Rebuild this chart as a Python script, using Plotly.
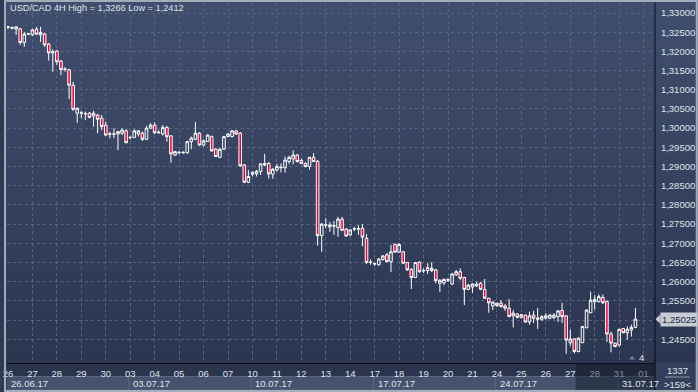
import plotly.graph_objects as go

# ---------------- data (USD/CAD, 4H bars) ----------------
opens = [1.3263, 1.3262, 1.3258, 1.3259, 1.3223, 1.3245, 1.3243, 1.3258, 1.3243, 1.3245,
         1.3219, 1.3196, 1.3201, 1.3175, 1.3153, 1.3152, 1.3112, 1.3039, 1.3039, 1.3037,
         1.3039, 1.3032, 1.3034, 1.3026, 1.3008, 1.2984, 1.2984, 1.2985, 1.2987, 1.2993,
         1.2975, 1.2976, 1.2985, 1.2987, 1.2971, 1.3000, 1.3008, 1.2988, 1.2985, 1.3002,
         1.2980, 1.2930, 1.2936, 1.2936, 1.2936, 1.2965, 1.2971, 1.2987, 1.2956, 1.2965,
         1.2978, 1.2945, 1.2924, 1.2945, 1.2978, 1.2978, 1.2993, 1.2987, 1.2904, 1.2859,
         1.2880, 1.2881, 1.2887, 1.2904, 1.2908, 1.2880, 1.2891, 1.2897, 1.2897, 1.2913,
         1.2920, 1.2930, 1.2916, 1.2908, 1.2900, 1.2924, 1.2914, 1.2720, 1.2747, 1.2743,
         1.2745, 1.2741, 1.2763, 1.2737, 1.2722, 1.2737, 1.2737, 1.2739, 1.2713, 1.2650,
         1.2646, 1.2644, 1.2658, 1.2670, 1.2652, 1.2697, 1.2677, 1.2678, 1.2650, 1.2632,
         1.2611, 1.2651, 1.2628, 1.2629, 1.2629, 1.2631, 1.2596, 1.2597, 1.2604, 1.2594,
         1.2618, 1.2626, 1.2611, 1.2580, 1.2586, 1.2589, 1.2596, 1.2580, 1.2557, 1.2537,
         1.2538, 1.2544, 1.2537, 1.2531, 1.2511, 1.2516, 1.2507, 1.2513, 1.2495, 1.2513,
         1.2502, 1.2502, 1.2505, 1.2505, 1.2506, 1.2509, 1.2525, 1.2511, 1.2441, 1.2451,
         1.2418, 1.2441, 1.2480, 1.2519, 1.2548, 1.2548, 1.2559, 1.2548, 1.2464, 1.2440,
         1.2435, 1.2478, 1.2467, 1.2474, 1.2481]

highs = [1.3266, 1.3265, 1.3266, 1.3261, 1.3251, 1.3248, 1.3259, 1.3264, 1.3264, 1.3248,
         1.3222, 1.3205, 1.3204, 1.3178, 1.3159, 1.3154, 1.3121, 1.3053, 1.3045, 1.3043,
         1.3042, 1.3045, 1.3037, 1.3034, 1.3017, 1.2991, 1.3000, 1.2993, 1.3000, 1.2998,
         1.2980, 1.2997, 1.2995, 1.2991, 1.3006, 1.3013, 1.3015, 1.2995, 1.3008, 1.3006,
         1.2982, 1.2941, 1.2941, 1.2940, 1.2967, 1.2978, 1.3016, 1.2990, 1.2971, 1.2984,
         1.2981, 1.2948, 1.2948, 1.2980, 1.2987, 1.2995, 1.2995, 1.2990, 1.2907, 1.2891,
         1.2887, 1.2891, 1.2909, 1.2933, 1.2912, 1.2896, 1.2907, 1.2908, 1.2926, 1.2928,
         1.2942, 1.2932, 1.2921, 1.2911, 1.2925, 1.2935, 1.2917, 1.2753, 1.2765, 1.2756,
         1.2758, 1.2769, 1.2769, 1.2740, 1.2737, 1.2743, 1.2748, 1.2750, 1.2724, 1.2658,
         1.2649, 1.2662, 1.2670, 1.2675, 1.2696, 1.2700, 1.2701, 1.2680, 1.2651, 1.2635,
         1.2651, 1.2653, 1.2635, 1.2648, 1.2651, 1.2633, 1.2606, 1.2608, 1.2610, 1.2623,
         1.2631, 1.2635, 1.2613, 1.2594, 1.2596, 1.2600, 1.2599, 1.2607, 1.2558, 1.2548,
         1.2545, 1.2552, 1.2542, 1.2555, 1.2526, 1.2518, 1.2516, 1.2514, 1.2522, 1.2524,
         1.2532, 1.2513, 1.2518, 1.2516, 1.2518, 1.2526, 1.2545, 1.2513, 1.2475, 1.2453,
         1.2455, 1.2485, 1.2528, 1.2574, 1.2565, 1.2567, 1.2567, 1.2552, 1.2470, 1.2441,
         1.2477, 1.2479, 1.2484, 1.2488, 1.2532]

lows = [1.3258, 1.3257, 1.3243, 1.3217, 1.3212, 1.3243, 1.3240, 1.3243, 1.3225, 1.3212,
        1.3176, 1.3147, 1.3165, 1.3138, 1.3147, 1.3076, 1.3045, 1.3014, 1.3026, 1.3021,
        1.3026, 1.3004, 1.2987, 1.2995, 1.2980, 1.2974, 1.2974, 1.2943, 1.2982, 1.2961,
        1.2971, 1.2974, 1.2978, 1.2967, 1.2969, 1.2999, 1.2985, 1.2985, 1.2981, 1.2965,
        1.2910, 1.2928, 1.2932, 1.2933, 1.2933, 1.2945, 1.2969, 1.2954, 1.2952, 1.2964,
        1.2938, 1.2925, 1.2922, 1.2943, 1.2977, 1.2976, 1.2982, 1.2899, 1.2857, 1.2857,
        1.2874, 1.2874, 1.2878, 1.2901, 1.2869, 1.2868, 1.2887, 1.2885, 1.2884, 1.2907,
        1.2906, 1.2911, 1.2907, 1.2898, 1.2892, 1.2912, 1.2694, 1.2678, 1.2739, 1.2730,
        1.2722, 1.2717, 1.2732, 1.2717, 1.2719, 1.2732, 1.2722, 1.2692, 1.2646, 1.2644,
        1.2641, 1.2642, 1.2655, 1.2651, 1.2625, 1.2675, 1.2675, 1.2646, 1.2628, 1.2581,
        1.2610, 1.2623, 1.2623, 1.2620, 1.2625, 1.2596, 1.2573, 1.2591, 1.2599, 1.2591,
        1.2615, 1.2604, 1.2539, 1.2578, 1.2571, 1.2586, 1.2578, 1.2555, 1.2519, 1.2526,
        1.2534, 1.2533, 1.2524, 1.2508, 1.2481, 1.2504, 1.2504, 1.2493, 1.2488, 1.2492,
        1.2477, 1.2498, 1.2501, 1.2502, 1.2502, 1.2495, 1.2492, 1.2412, 1.2433, 1.2413,
        1.2416, 1.2440, 1.2479, 1.2518, 1.2528, 1.2546, 1.2542, 1.2443, 1.2416, 1.2429,
        1.2431, 1.2466, 1.2449, 1.2457, 1.2479]

closes = [1.3264, 1.3261, 1.3264, 1.3223, 1.3245, 1.3246, 1.3256, 1.3245, 1.3249, 1.3217,
          1.3196, 1.3199, 1.3173, 1.3153, 1.3154, 1.3112, 1.3049, 1.3052, 1.3040, 1.3038,
          1.3028, 1.3039, 1.3023, 1.3004, 1.2982, 1.2985, 1.2985, 1.2991, 1.2995, 1.2962,
          1.2976, 1.2993, 1.2993, 1.2971, 1.3000, 1.3008, 1.2988, 1.2989, 1.3002, 1.2978,
          1.2933, 1.2939, 1.2937, 1.2937, 1.2965, 1.2974, 1.2987, 1.2956, 1.2967, 1.2982,
          1.2941, 1.2926, 1.2945, 1.2978, 1.2985, 1.2993, 1.2985, 1.2902, 1.2859, 1.2874,
          1.2885, 1.2888, 1.2907, 1.2908, 1.2881, 1.2893, 1.2900, 1.2898, 1.2917, 1.2924,
          1.2930, 1.2913, 1.2908, 1.2900, 1.2924, 1.2913, 1.2720, 1.2750, 1.2748, 1.2748,
          1.2746, 1.2763, 1.2734, 1.2719, 1.2735, 1.2738, 1.2738, 1.2716, 1.2650, 1.2651,
          1.2647, 1.2659, 1.2667, 1.2652, 1.2678, 1.2677, 1.2697, 1.2648, 1.2631, 1.2611,
          1.2650, 1.2626, 1.2629, 1.2637, 1.2635, 1.2603, 1.2604, 1.2606, 1.2605, 1.2620,
          1.2626, 1.2609, 1.2580, 1.2591, 1.2594, 1.2594, 1.2580, 1.2557, 1.2545, 1.2547,
          1.2544, 1.2535, 1.2531, 1.2509, 1.2518, 1.2507, 1.2514, 1.2495, 1.2511, 1.2505,
          1.2505, 1.2509, 1.2511, 1.2513, 1.2513, 1.2524, 1.2509, 1.2448, 1.2451, 1.2418,
          1.2453, 1.2483, 1.2526, 1.2552, 1.2554, 1.2561, 1.2545, 1.2464, 1.2440, 1.2431,
          1.2476, 1.2467, 1.2476, 1.2481, 1.25025]

day_labels = ["26", "27", "28", "29", "30", "03", "04", "05", "06", "07",
              "10", "11", "12", "13", "14", "17", "18", "19", "20", "21",
              "24", "25", "26", "27", "28", "31", "01"]
week_labels = ["26.06.17", "03.07.17", "10.07.17", "17.07.17", "24.07.17", "31.07.17"]
price_ticks = [1.245, 1.250, 1.255, 1.260, 1.265, 1.270, 1.275, 1.280, 1.285,
               1.290, 1.295, 1.300, 1.305, 1.310, 1.315, 1.320, 1.325, 1.330]
title_text = "USD/CAD 4H High = 1,3266 Low = 1,2412"
corner_top = "1337"
corner_bottom = ">159<"
bar_count_label = "4"
bars_per_day = 6
days_per_week = 5

# ---------------- derived ----------------
x_idx = list(range(len(opens)))
day_ticks = [k * bars_per_day for k in range(len(day_labels))]
week_starts = [k * bars_per_day * days_per_week for k in range(len(week_labels))]
price_text = [f"{v:.5f}".replace(".", ",") for v in price_ticks]
last_close = closes[-1]
last_text = f"{last_close:.5f}".replace(".", ",")

W, H = 698, 392
ML, MR, MT, MB = 3, 43, 3, 29
PW, PH = W - ML - MR, H - MT - MB


def px(xp):   # page x -> paper
    return (xp - ML) / PW


def py(yp):   # page y -> paper
    return (H - MB - yp) / PH


FONT = "Liberation Sans, Arial, sans-serif"
TXT = "#dfe3ea"

fig = go.Figure()
fig.add_trace(go.Candlestick(
    x=x_idx, open=opens, high=highs, low=lows, close=closes,
    increasing=dict(line=dict(color="#ffffff", width=1), fillcolor="rgba(0,0,0,0)"),
    decreasing=dict(line=dict(color="#ffffff", width=1), fillcolor="#e8073b"),
    whiskerwidth=0, showlegend=False, hoverinfo="skip",
))

shapes = []
top_c = (0x40, 0x4e, 0x6e)
bot_c = (0x2a, 0x34, 0x4e)
nb = 30
for k in range(nb):
    t = k / (nb - 1)
    c = tuple(int(round(top_c[j] + (bot_c[j] - top_c[j]) * t)) for j in range(3))
    y0 = k * H / nb
    y1 = (k + 1) * H / nb + 0.5
    shapes.append(dict(type="rect", xref="paper", yref="paper", layer="below",
                       x0=px(0), x1=px(W), y0=py(y1), y1=py(y0),
                       fillcolor=f"rgb{c}", line=dict(width=0)))
shapes.append(dict(type="rect", xref="paper", yref="paper", layer="below",
                   x0=px(0), x1=px(W), y0=py(H), y1=py(H - MB),
                   fillcolor="#2b344d", line=dict(width=0)))
for k, ws in enumerate(week_starts):
    we = ws + bars_per_day * days_per_week
    shapes.append(dict(type="rect", xref="x", yref="paper", layer="below",
                       x0=ws - 0.3, x1=we - 0.3, y0=py(390), y1=py(376.5),
                       fillcolor="#46536e", line=dict(color="#5a6681", width=1)))
shapes.append(dict(type="rect", xref="paper", yref="paper", layer="below",
                   x0=px(655), x1=px(W), y0=py(H), y1=py(H - MB),
                   fillcolor="#34405b", line=dict(width=0)))
shapes.append(dict(type="line", xref="paper", yref="paper", layer="above",
                   x0=px(665), x1=px(690), y0=py(377), y1=py(377),
                   line=dict(color="#8d97aa", width=1)))
shapes.append(dict(type="rect", xref="x", yref="paper", layer="above",
                   x0=139.3, x1=158.8, y0=py(391), y1=py(H - MB),
                   fillcolor="rgba(16,22,36,0.45)", line=dict(width=0)))
shapes.append(dict(type="line", xref="paper", yref="paper", layer="above",
                   x0=1, x1=1, y0=py(H), y1=py(0), line=dict(color="#0a0e16", width=1)))
shapes.append(dict(type="path", xref="paper", yref="y", layer="above",
                   path=f"M {px(655.5)},{last_close} L {px(660.5)},{last_close + 0.00125} "
                        f"L {px(660.5)},{last_close - 0.00125} Z",
                   fillcolor="#c6cbd4", line=dict(width=0)))
shapes.append(dict(type="path", xref="paper", yref="paper", layer="above",
                   path=f"M {px(629)},{py(359.5)} L {px(635)},{py(359.5)} L {px(632)},{py(355.5)} Z",
                   fillcolor="#6f7a92", line=dict(width=0)))
shapes.append(dict(type="rect", xref="paper", yref="paper", layer="above",
                   x0=px(1), x1=px(W - 1), y0=py(H - 1), y1=py(1),
                   fillcolor="rgba(0,0,0,0)", line=dict(color="#a3acbb", width=2)))

annotations = [
    dict(text=title_text, xref="paper", yref="paper", x=px(4), y=py(8.5),
         xanchor="left", yanchor="middle", showarrow=False,
         font=dict(family=FONT, size=9.2, color=TXT)),
    dict(text=last_text, xref="paper", yref="y", x=px(660), y=last_close,
         xanchor="left", yanchor="middle", showarrow=False, bgcolor="#c6cbd4",
         borderpad=1, font=dict(family=FONT, size=9.5, color="#1d2540")),
    dict(text=bar_count_label, xref="paper", yref="paper", x=px(641), y=py(357.5),
         xanchor="center", yanchor="middle", showarrow=False,
         font=dict(family=FONT, size=9.5, color=TXT)),
    dict(text=corner_top, xref="paper", yref="paper", x=px(677.5), y=py(370.5),
         xanchor="center", yanchor="middle", showarrow=False,
         font=dict(family=FONT, size=9.5, color=TXT)),
    dict(text=corner_bottom, xref="paper", yref="paper", x=px(677.5), y=py(384),
         xanchor="center", yanchor="middle", showarrow=False,
         font=dict(family=FONT, size=9.5, color=TXT)),
]
for k, ws in enumerate(week_starts):
    annotations.append(dict(text=week_labels[k], xref="x", yref="paper", x=ws, y=py(383.5),
                            xanchor="left", yanchor="middle", xshift=1, showarrow=False,
                            font=dict(family=FONT, size=9.5, color=TXT)))

grid = "#57637f"
fig.update_layout(
    width=W, height=H, autosize=False,
    margin=dict(l=ML, r=MR, t=MT, b=MB, pad=0),
    paper_bgcolor="#2f3a55", plot_bgcolor="rgba(0,0,0,0)",
    font=dict(family=FONT, size=9.5, color=TXT),
    boxgap=0.1,
    shapes=shapes, annotations=annotations,
    xaxis=dict(range=[-0.24, 158.8], tickmode="array", tickvals=day_ticks, ticktext=day_labels,
               showgrid=True, gridcolor=grid, griddash="3px,3px", gridwidth=1,
               showline=True, linecolor="#0a0e16", linewidth=1, zeroline=False,
               ticks="outside", ticklen=2, tickcolor="rgba(0,0,0,0)",
               ticklabeloverflow="allow",
               tickfont=dict(family=FONT, size=9.5, color=TXT),
               rangeslider=dict(visible=False), fixedrange=True),
    yaxis=dict(side="right", range=[1.23882, 1.33261], tickmode="array",
               tickvals=price_ticks, ticktext=price_text,
               showgrid=True, gridcolor=grid, griddash="3px,3px", gridwidth=1,
               showline=False, zeroline=False,
               ticks="outside", ticklen=3, tickcolor="rgba(0,0,0,0)",
               tickfont=dict(family=FONT, size=9.5, color=TXT), fixedrange=True),
)

fig.write_html("out.html", config={"displayModeBar": False},
               post_script="document.body.style.margin='0';document.body.style.padding='0';")
